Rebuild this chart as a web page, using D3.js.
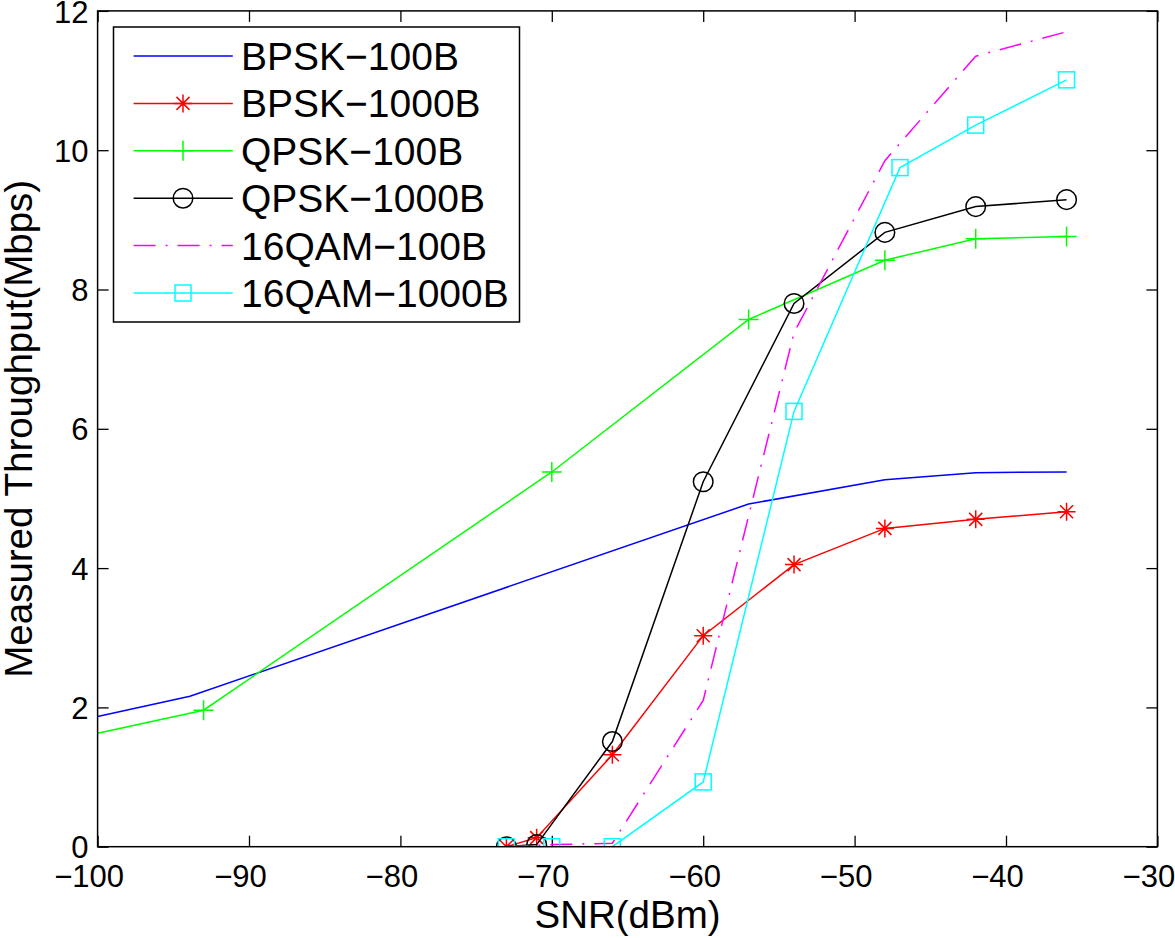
<!DOCTYPE html>
<html>
<head>
<meta charset="utf-8">
<script src="https://cdn.jsdelivr.net/npm/d3@7"></script>
<style>
  html, body { margin: 0; padding: 0; background: #fff; }
  svg { display: block; }
  text { font-family: "Liberation Sans", Arial, Helvetica, sans-serif; fill: #000; }
</style>
</head>
<body>
<svg id="chart" width="1175" height="938"></svg>
<script>
// ---- Data ----
const xTicks = [-100, -90, -80, -70, -60, -50, -40, -30];
const yTicks = [0, 2, 4, 6, 8, 10, 12];
const xLabel = "SNR(dBm)";
const yLabel = "Measured Throughput(Mbps)";

const seriesNames = ["BPSK\u2212100B", "BPSK\u22121000B", "QPSK\u2212100B", "QPSK\u22121000B", "16QAM\u2212100B", "16QAM\u22121000B"];

const bpsk100X = [-100, -93.9, -57, -48, -42, -36];
const bpsk100Y = [1.87, 2.16, 4.92, 5.27, 5.37, 5.38];

const bpsk1000X = [-73, -71, -66, -60, -54, -48, -42, -36];
const bpsk1000Y = [0, 0.13, 1.32, 3.03, 4.05, 4.57, 4.70, 4.81];

const qpsk100X = [-100, -93, -70, -57, -48, -42, -36];
const qpsk100Y = [1.63, 1.96, 5.38, 7.57, 8.42, 8.73, 8.76];

const qpsk1000X = [-73, -71, -66, -60, -54, -48, -42, -36];
const qpsk1000Y = [0, 0.03, 1.51, 5.24, 7.80, 8.82, 9.19, 9.29];

const qam100X = [-73, -70, -66, -60, -57, -54, -48, -42, -36];
const qam100Y = [0, 0.03, 0.05, 2.1, 4.75, 7.38, 9.85, 11.35, 11.7];

const qam1000X = [-73, -70, -66, -60, -54, -47, -42, -36];
const qam1000Y = [0, 0, 0, 0.93, 6.25, 9.75, 10.36, 11.01];

const seriesColors = ["#0000ff", "#ff0000", "#00ff00", "#000000", "#ff00ff", "#00ffff"];
const seriesMarkers = ["none", "star", "plus", "circle", "none", "square"];
const seriesDash = [null, null, null, null, "22,10,2,10", null];

const seriesX = [bpsk100X, bpsk1000X, qpsk100X, qpsk1000X, qam100X, qam1000X];
const seriesY = [bpsk100Y, bpsk1000Y, qpsk100Y, qpsk1000Y, qam100Y, qam1000Y];

// ---- Layout ----
const plot = { left: 97.6, right: 1157.4, top: 10.9, bottom: 846.7 };
const svg = d3.select("#chart");

const x = d3.scaleLinear().domain([-100, -30]).range([plot.left, plot.right]);
const y = d3.scaleLinear().domain([0, 12]).range([plot.bottom, plot.top]);

const series = seriesNames.map((name, i) => ({
  name,
  color: seriesColors[i],
  marker: seriesMarkers[i],
  dash: seriesDash[i],
  points: seriesX[i].map((xv, j) => ({ x: xv, y: seriesY[i][j] }))
}));

svg.append("defs").append("clipPath").attr("id", "clip")
  .append("rect")
  .attr("x", plot.left).attr("y", plot.top)
  .attr("width", plot.right - plot.left).attr("height", plot.bottom - plot.top);

// ---- Axes ----
const tickLen = 11;
const axisG = svg.append("g");

const xAxisB = d3.axisBottom(x).tickValues(xTicks).tickSizeInner(-tickLen).tickSizeOuter(0)
  .tickFormat(d => (d < 0 ? "\u2212" + Math.abs(d) : d));
const xAxisT = d3.axisTop(x).tickValues(xTicks).tickSizeInner(-tickLen).tickSizeOuter(0).tickFormat("");
const yAxisL = d3.axisLeft(y).tickValues(yTicks).tickSizeInner(-tickLen).tickSizeOuter(0);
const yAxisR = d3.axisRight(y).tickValues(yTicks).tickSizeInner(-tickLen).tickSizeOuter(0).tickFormat("");

const gB = axisG.append("g").attr("transform", `translate(0,${plot.bottom})`).call(xAxisB);
const gT = axisG.append("g").attr("transform", `translate(0,${plot.top})`).call(xAxisT);
const gL = axisG.append("g").attr("transform", `translate(${plot.left},0)`).call(yAxisL);
const gR = axisG.append("g").attr("transform", `translate(${plot.right},0)`).call(yAxisR);

[gB, gT, gL, gR].forEach(g => {
  g.select(".domain").remove();
  g.selectAll(".tick line").attr("stroke", "#000").attr("stroke-width", 1.3);
});
// hide tick marks at frame edges (they coincide with frame)
gB.selectAll(".tick text")
  .attr("font-size", 31).attr("font-family", "Liberation Sans, Arial, sans-serif")
  .attr("y", 0).attr("dy", null)
  .attr("transform", "translate(-9,40)")
  .attr("fill", "#000");
gL.selectAll(".tick text")
  .attr("font-size", 31).attr("font-family", "Liberation Sans, Arial, sans-serif")
  .attr("x", -9).attr("dy", "0.36em")
  .attr("fill", "#000");

// ---- Series ----
const lineGen = d3.line().x(d => x(d.x)).y(d => y(d.y));
const dataG = svg.append("g").attr("clip-path", "url(#clip)");

function drawMarker(g, type, color) {
  const sw = 1.5;
  if (type === "star") {
    const a = 9, b = 6.5;
    g.append("path").attr("d",
      `M${-a},0L${a},0M0,${-a}L0,${a}M${-b},${-b}L${b},${b}M${-b},${b}L${b},${-b}`)
      .attr("stroke", color).attr("stroke-width", sw).attr("fill", "none");
  } else if (type === "plus") {
    const a = 10;
    g.append("path").attr("d", `M${-a},0L${a},0M0,${-a}L0,${a}`)
      .attr("stroke", color).attr("stroke-width", sw).attr("fill", "none");
  } else if (type === "circle") {
    g.append("circle").attr("r", 9.8)
      .attr("stroke", color).attr("stroke-width", sw).attr("fill", "none");
  } else if (type === "square") {
    g.append("rect").attr("x", -8).attr("y", -8).attr("width", 16).attr("height", 16)
      .attr("stroke", color).attr("stroke-width", sw).attr("fill", "none");
  }
}

series.forEach(s => {
  const g = dataG.append("g");
  g.append("path")
    .datum(s.points)
    .attr("d", lineGen)
    .attr("fill", "none")
    .attr("stroke", s.color)
    .attr("stroke-width", 1.5)
    .attr("stroke-dasharray", s.dash);
  if (s.marker !== "none") {
    s.points.filter(p => p.x > -100).forEach(p => {
      const mg = g.append("g").attr("transform", `translate(${x(p.x)},${y(p.y)})`);
      drawMarker(mg, s.marker, s.color);
    });
  }
});

// ---- Frame ----
svg.append("rect")
  .attr("x", plot.left).attr("y", plot.top)
  .attr("width", plot.right - plot.left).attr("height", plot.bottom - plot.top)
  .attr("fill", "none").attr("stroke", "#000").attr("stroke-width", 1.5);

// ---- Axis labels ----
svg.append("text")
  .attr("x", (plot.left + plot.right) / 2).attr("y", 928)
  .attr("text-anchor", "middle").attr("font-size", 38.5)
  .text(xLabel);

svg.append("text")
  .attr("transform", `translate(32,${(plot.top + plot.bottom) / 2}) rotate(-90)`)
  .attr("text-anchor", "middle").attr("font-size", 38.5)
  .text(yLabel);

// ---- Legend ----
const legend = { x0: 113.5, y0: 27, x1: 519.5, y1: 322 };
const lg = svg.append("g");
lg.append("rect")
  .attr("x", legend.x0).attr("y", legend.y0)
  .attr("width", legend.x1 - legend.x0).attr("height", legend.y1 - legend.y0)
  .attr("fill", "#fff").attr("stroke", "#000").attr("stroke-width", 1.5);

const rowY = d3.scalePoint().domain(d3.range(series.length)).range([56, 293]);
series.forEach((s, i) => {
  const cy = rowY(i);
  lg.append("line")
    .attr("x1", 133.6).attr("x2", 232.8).attr("y1", cy).attr("y2", cy)
    .attr("stroke", s.color).attr("stroke-width", 1.5)
    .attr("stroke-dasharray", s.dash);
  if (s.marker !== "none") {
    const mg = lg.append("g").attr("transform", `translate(183,${cy})`);
    drawMarker(mg, s.marker, s.color);
  }
  lg.append("text")
    .attr("x", 241).attr("y", cy + 14)
    .attr("font-size", 39)
    .text(s.name);
});
</script>
</body>
</html>
